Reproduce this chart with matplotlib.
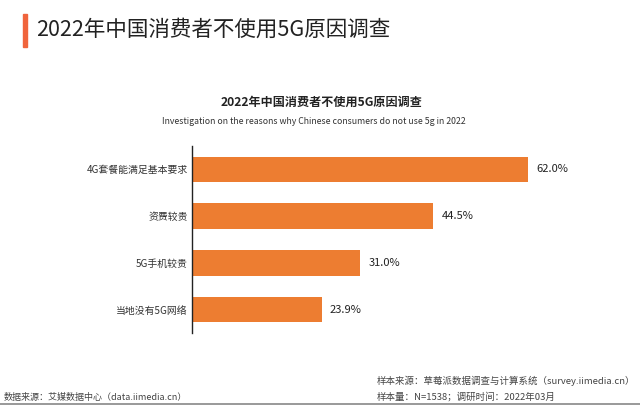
import matplotlib
matplotlib.use('Agg')
import matplotlib.pyplot as plt
from matplotlib.patches import Rectangle

plt.rcParams['font.family'] = ['Noto Sans CJK SC', 'DejaVu Sans']

#-------------------------------------------------------------------------
categories = ['4G套餐能满足基本要求', '资费较贵', '5G手机较贵', '当地没有5G网络']
values = [62.0, 44.5, 31.0, 23.9]

header_title = '2022年中国消费者不使用5G原因调查'
chart_title = '2022年中国消费者不使用5G原因调查'
chart_subtitle = 'Investigation on the reasons why Chinese consumers do not use 5g in 2022'
source_left = '数据来源：艾媒数据中心（data.iimedia.cn）'
source_right1 = '样本来源：草莓派数据调查与计算系统（survey.iimedia.cn）'
source_right2 = '样本量：N=1538；调研时间：2022年03月'

bar_color = '#ED7D31'

#-------------------------------------------------------------------------
fig = plt.figure(figsize=(6.4, 4.08), dpi=100)
fig.patch.set_facecolor('white')

# header
fig.patches.append(Rectangle((23/640, 1-47/408), 4/640, 33/408,
                             transform=fig.transFigure, color='#F0643C'))
fig.text(36/640, 1-30/408, header_title, fontsize=15.5, color='#222222',
         va='center', ha='left')

fig.text(322/640, 1-102/408, chart_title, fontsize=8.7, fontweight='bold',
         color='#222222', ha='center', va='center')
fig.text(314/640, 1-121/408, chart_subtitle, fontsize=6.3, color='#333333',
         ha='center', va='center')

ax = fig.add_axes([192/640, 1-333/408, 434/640, 187/408])
y = range(len(categories))
ax.barh(y, values, height=0.55, color=bar_color)
ax.set_xlim(0, 80)
ax.set_ylim(3.5, -0.5)
ax.set_yticks(list(y))
ax.set_yticklabels(categories, fontsize=7.1, color='#333333')
ax.tick_params(axis='y', length=0, pad=3)
ax.set_xticks([])
for s in ['top', 'right', 'bottom']:
    ax.spines[s].set_visible(False)
ax.spines['left'].set_color('#222222')
ax.spines['left'].set_linewidth(1.0)

for i, v in enumerate(values):
    ax.text(v + 1.5, i, '%.1f%%' % v, fontsize=8, color='#222222',
            va='center', ha='left')

# footer
fig.text(4/640, 1-397/408, source_left, fontsize=6.5, color='#444444',
         va='center', ha='left')
fig.text(377/640, 1-381/408, source_right1, fontsize=6.8, color='#444444',
         va='center', ha='left')
fig.text(377/640, 1-397/408, source_right2, fontsize=6.8, color='#444444',
         va='center', ha='left')
fig.lines.append(plt.Line2D([0, 1], [1-403.5/408, 1-403.5/408],
                            transform=fig.transFigure, color='#888888',
                            linewidth=1.2))

fig.savefig('out.png', dpi=100)
